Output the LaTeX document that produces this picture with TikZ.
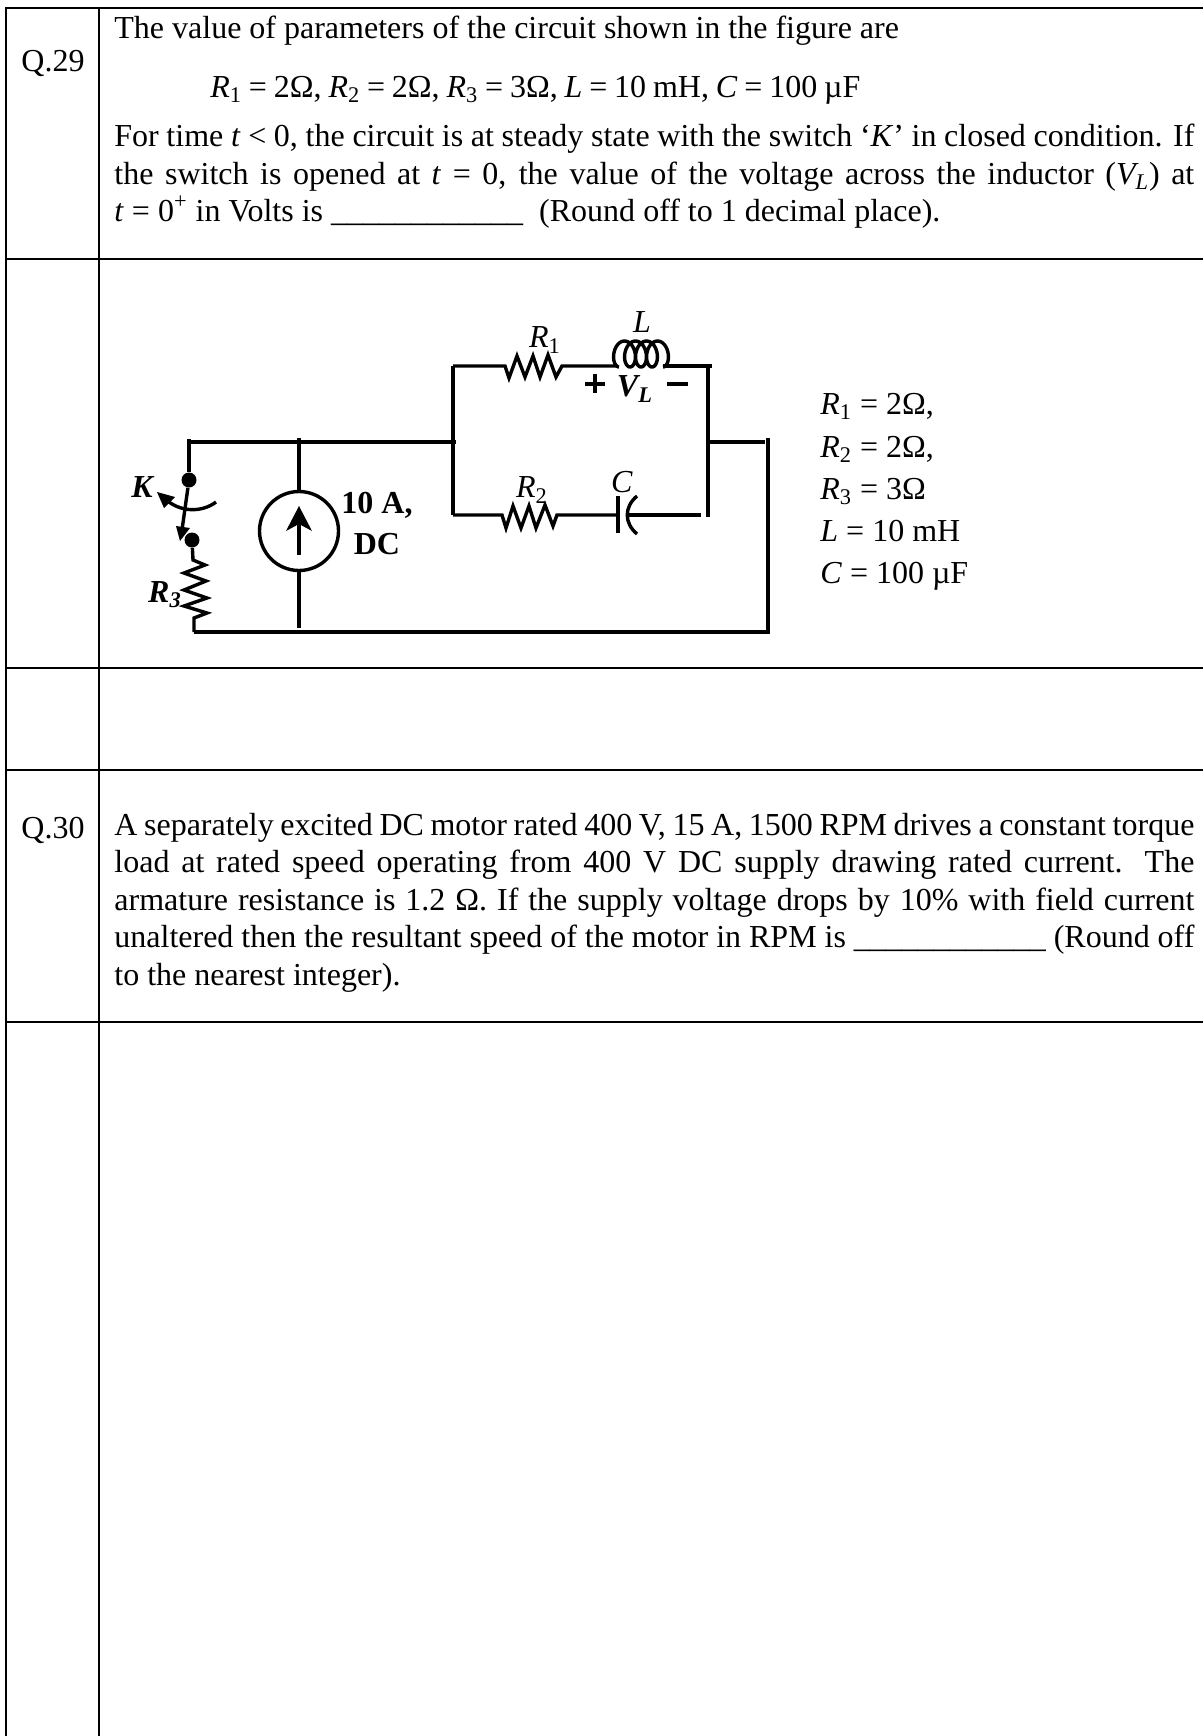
\documentclass[tikz,border=0pt]{standalone}
\usepackage{fontspec}
\setmainfont{Liberation Serif}
\usepackage{tikz}
\newcommand{\blankline}{\_\_\_\_\_\_\_\_\_\_\_\_}
\newcommand{\jline}[2]{\makebox[#1][s]{\spaceskip=0.25em plus 1em minus 0.2em #2}}
\begin{document}
\begin{tikzpicture}[x=0.5pt,y=-0.5pt]
		\tikzstyle{every node}+=[inner sep=0pt,font=\fontsize{16}{18.8}\selectfont]
		\tikzstyle{rule}=[black,line width=1pt]
		\tikzstyle{wire}=[black,line width=1.7pt]
		\tikzstyle{line}=[anchor=base west]
		\tikzstyle{dot}=[circle,fill=black,minimum size=7.5pt]
		\useasboundingbox (0,0) rectangle (1203,1736);
		\draw [rule] (1203,8) -- (6,8) -- (6,1736);
		\draw [rule] (99,8) -- (99,1736);
		\draw [rule] (6,259) -- (1203,259);
		\draw [rule] (6,668) -- (1203,668);
		\draw [rule] (6,770) -- (1203,770);
		\draw [rule] (6,1022) -- (1203,1022);
		\node (qa) [line] at (21,71) {Q.29};
		\node (qb) [line] at (21,838) {Q.30};
		\node (intro) [line] at (114,38) {The value of parameters of the circuit shown in the figure are};
		\node (vals) [line] at (210,97) {\jline{325pt}{\textit{R}\textsubscript{1} = 2Ω, \textit{R}\textsubscript{2} = 2Ω, \textit{R}\textsubscript{3} = 3Ω, \textit{L} = 10 mH, \textit{C} = 100 µF}};
		\node (bodya) [line] at (114,146) {\jline{540pt}{For time \textit{t} < 0, the circuit is at steady state with the switch ‘\textit{K}’ in closed condition. If}};
		\node (bodyb) [line] at (114,184) {\jline{540pt}{the switch is opened at \textit{t} = 0, the value of the voltage across the inductor (\textit{V\textsubscript{L}}) at}};
		\node (bodyc) [line] at (114,221) {\jline{413pt}{\textit{t} = 0\textsuperscript{+} in Volts is \blankline\ \ (Round off to 1 decimal place).}};
		\node (motora) [line] at (114,835) {\jline{540pt}{A separately excited DC motor rated 400 V, 15 A, 1500 RPM drives a constant torque}};
		\node (motorb) [line] at (114,872) {\jline{540pt}{load at rated speed operating from 400 V DC supply drawing rated current. The}};
		\node (motorc) [line] at (114,910) {\jline{540pt}{armature resistance is 1.2 Ω. If the supply voltage drops by 10\% with field current}};
		\node (motord) [line] at (114,947) {\jline{540pt}{unaltered then the resultant speed of the motor in RPM is \blankline\ (Round off}};
		\node (motore) [line] at (114,985) {to the nearest integer).};
		\coordinate (tl) at (189,442);
		\coordinate (tj) at (453,442);
		\coordinate (tr) at (708,442);
		\coordinate (oc) at (768,442);
		\coordinate (bl) at (194,632);
		\coordinate (br) at (768,632);
		\coordinate (ul) at (453,366);
		\coordinate (ur) at (708,366);
		\coordinate (ll) at (453,515);
		\coordinate (lr) at (701,515);
		\node (swa) [dot] at (189,480) {};
		\node (swb) [dot] at (192,540) {};
		\node (src) [circle,draw,line width=1.7pt,minimum size=39.5pt] at (299,531) {};
		\draw [wire] (tl) -- (tj);
		\draw [wire] (tj) -- ++(3,0);
		\draw [wire] (189,439) -- (swa);
		\draw [wire] (299,438) -- (src);
		\draw [wire] (src) -- (299,628);
		\draw [wire] (bl) -- (br);
		\draw [wire] (ul) -- (ll);
		\draw [wire] (712,366) -- (ur) -- (708,517);
		\draw [wire] (tr) -- (765,442);
		\draw [wire] (768,438) -- (768,634);
		\draw [wire] (swa) -- (182,530);
		\fill [black] (180,541) -- (176,526) -- (190,528);
		\draw [wire] (216,502) .. controls (203,512) and (180,514) .. (163,497);
		\fill [black] (157,492) -- (175,497) -- (164,508);
		\draw [wire,line join=miter] (swb) -- (193,560) -- (205,565) -- (184,573) -- (206,581) -- (184,590) -- (207,598) -- (184,606) -- (207,613) -- (194,618) -- (bl);
		\draw [wire,line join=miter] (ul) -- (505,366) -- (509,378) -- (517,356) -- (525,377) -- (533,356) -- (540,377) -- (548,355) -- (556,377) -- (562,366) -- (617,366);
		\draw [wire] plot [domain=0:1440,samples=145,smooth] ({619+11*\x/360-8*sin(\x)},{354+13*cos(\x)});
		\draw [wire] (663,366) -- (ur);
		\draw [wire,line join=miter] (ll) -- (502,515) -- (506,528) -- (513,506) -- (521,528) -- (529,506) -- (536,528) -- (545,505) -- (553,526) -- (557,515) -- (618,515);
		\draw [wire] (618,496) -- (618,533);
		\draw [wire] (637,496) .. controls (624,507) and (624,523) .. (637,534);
		\draw [wire] (627,515) -- (lr);
		\draw [wire] (299,555) -- (299,520);
		\fill [black] (299,506) -- (286,531) -- (299,524) -- (312,531);
		\draw [wire] (585,384) -- (605,384);
		\draw [wire] (595,374) -- (595,393);
		\draw [wire] (667,384) -- (688,384);
		\node (kl) at (143,487) {\textbf{\textit{K}}};
		\node (rc) at (165,595) {\textbf{\textit{R\textsubscript{3}}}};
		\node (ia) at (377,505) {\textbf{10 A,}};
		\node (ib) at (377,544) {\textbf{DC}};
		\node (ra) at (545,340) {\textit{R}\textsubscript{1}};
		\node (il) at (642,322) {\textit{L}};
		\node (rb) at (532,490) {\textit{R}\textsubscript{2}};
		\node (cl) at (622,482) {\textit{C}};
		\node (vl) at (635,389) {\textbf{\textit{V\textsubscript{L}}}};
		\node (va) [line] at (820,414) {\textit{R}\textsubscript{1} = 2Ω,};
		\node (vb) [line] at (820,457) {\textit{R}\textsubscript{2} = 2Ω,};
		\node (vc) [line] at (820,499) {\textit{R}\textsubscript{3} = 3Ω};
		\node (vd) [line] at (820,541) {\textit{L} = 10 mH};
		\node (ve) [line] at (820,583) {\textit{C} = 100 µF};
\end{tikzpicture}
\end{document}
